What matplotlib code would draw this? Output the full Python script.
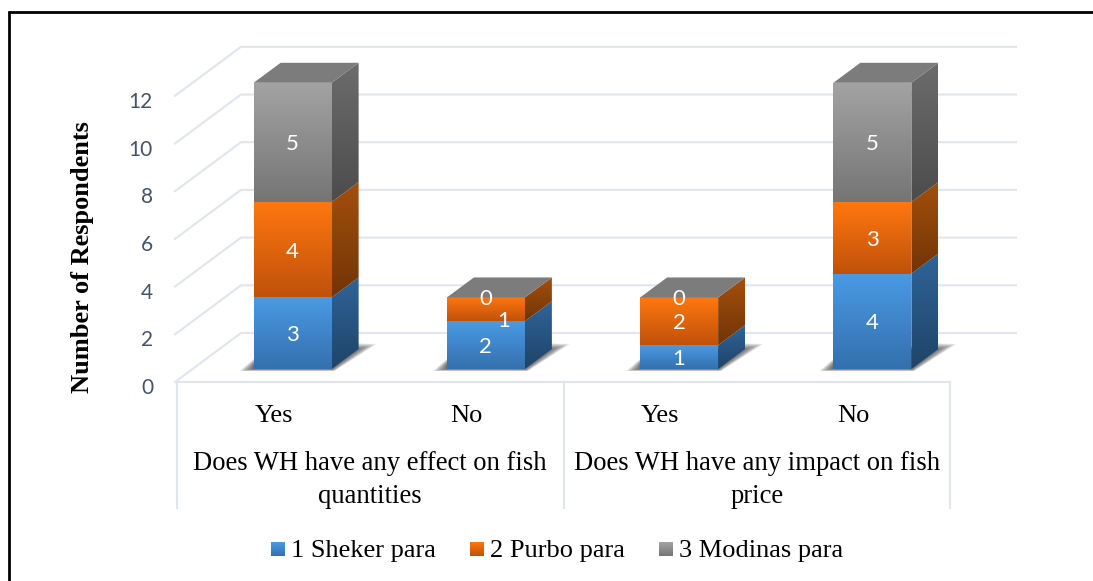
import numpy as np
import matplotlib
matplotlib.use("Agg")
import matplotlib.pyplot as plt
from matplotlib.patches import Polygon
from matplotlib.colors import to_rgb

series_names = ["1 Sheker para", "2 Purbo para", "3 Modinas para"]
answers = ["Yes", "No", "Yes", "No"]
questions = ["Does WH have any effect on fish\nquantities",
             "Does WH have any impact on fish\nprice"]
sheker = [3, 2, 1, 4]
purbo = [4, 1, 2, 3]
modinas = [5, 0, 0, 5]
y_ticks = [0, 2, 4, 6, 8, 10, 12]

W, H = 1093, 581
fig = plt.figure(figsize=(W / 100, H / 100), dpi=100)
ax = fig.add_axes([0, 0, 1, 1])
ax.axis("off")

# pixel layout of the fake 3d box
left, right = 177, 950
floor_y = 382
unit = 23.85
cat_w = (right - left) / 4
wall_dx, wall_dy = 64, -49
grid_col = "#e1e5ec"
serif = "Liberation Serif"


def py(v):
    return floor_y - unit * v


def gradient_poly(pts, top, bottom, zorder=3):
    pts = np.array(pts, dtype=float)
    x0, x1 = pts[:, 0].min(), pts[:, 0].max()
    y0, y1 = pts[:, 1].min(), pts[:, 1].max()
    grad = np.linspace(to_rgb(top), to_rgb(bottom), 64).reshape(64, 1, 3)
    im = ax.imshow(grad, extent=(x0, x1, y1, y0), aspect="auto", zorder=zorder,
                   interpolation="bilinear")
    im.set_clip_path(Polygon(pts, closed=True, transform=ax.transData))


def shadow(x0, x1, y):
    # soft shadow on the floor, stacked shapes going from wide to tight
    outer = np.array([(x0 - 14, y + 2), (x1 + 3, y + 2), (x1 + 45, y - 25),
                      (x1 + 20, y - 26), (x0, y - 10)])
    inner = np.array([(x0, y), (x1, y), (x1 + 24, y - 19), (x1, y - 19), (x0, y - 4)])
    for t in np.linspace(0, 1, 14):
        ax.add_patch(Polygon(outer + (inner - outer) * t, closed=True, fc="#383838",
                             ec="none", alpha=0.085, zorder=2))


# frame, the picture is cropped so only part of it shows
ax.plot([9, 9], [581, 11], color="black", lw=2, zorder=1, solid_capstyle="butt")
ax.plot([8, 1093], [11.5, 11.5], color="black", lw=2, zorder=1, solid_capstyle="butt")

# grid, wall and floor lines
for v in y_ticks:
    y = py(v)
    ax.plot([left - 2, left + wall_dx, 1016], [y, y + wall_dy, y + wall_dy],
            color=grid_col, lw=1.5, zorder=1)
    ax.text(153, y + 6, str(v), ha="right", va="center",
            fontsize=15, family="Lato", color="#44546a", zorder=5)
ax.plot([left, right], [floor_y, floor_y], color=grid_col, lw=1.5, zorder=1)

# category axis below the floor
for i in range(3):
    x = left + i * 2 * cat_w
    ax.plot([x, x], [floor_y, 508], color=grid_col, lw=1.5, zorder=1)

for i, name in enumerate(answers):
    ax.text(left + (i + 0.5) * cat_w, 416, name, ha="center", va="center",
            fontsize=19, family=serif, color="black")
for i, name in enumerate(questions):
    ax.text(left + (i + 0.5) * 2 * cat_w, 480, name, ha="center", va="center",
            fontsize=19.2, family=serif, color="black", linespacing=1.4)

ax.text(82.5, 257, "Number of Respondents", rotation=90, ha="center", va="center",
        fontsize=19, fontweight="bold", family=serif, color="black")

# stacked 3d bars
front_cols = [("#4a9ae5", "#3470ad"), ("#ff7710", "#bf520a"), ("#a3a3a3", "#757575")]
side_cols = [("#2f6499", "#1f4468"), ("#a44f0c", "#713506"), ("#6c6c6c", "#4c4c4c")]
bar_w = 78
dx, dy = 27, -20
base_y = 369
base_v = (floor_y - base_y) / unit

stack = np.array([sheker, purbo, modinas], dtype=float)
for c in range(len(answers)):
    xc = left + (c + 0.5) * cat_w + 19
    x0, x1 = xc - bar_w / 2, xc + bar_w / 2
    shadow(x0, x1, base_y)
    bottom = 0
    for s in range(len(series_names)):
        val = stack[s, c]
        y_low = py(base_v + bottom)
        y_high = py(base_v + bottom + val)
        if val > 0:
            gradient_poly([(x0, y_high), (x1, y_high), (x1, y_low), (x0, y_low)],
                          *front_cols[s])
            gradient_poly([(x1, y_high), (x1 + dx, y_high + dy), (x1 + dx, y_low + dy), (x1, y_low)],
                          *side_cols[s])
        lx, ly = xc, (y_low + y_high) / 2 + 2
        # the label of the thin orange slice sits off to the side in the original
        if val == 1 and s == 1:
            lx, ly = xc + 18, y_low
        ax.text(lx, ly, f"{int(val)}", ha="center", va="center", fontsize=16,
                family="Lato", color="white", zorder=6)
        bottom += val
    y_top = py(base_v + bottom)
    ax.add_patch(Polygon([(x0, y_top), (x1, y_top), (x1 + dx, y_top + dy), (x0 + dx, y_top + dy)],
                         closed=True, fc="#7c7c7c", ec="none", zorder=3))

# legend
legend_x = [271, 470, 659]
for i, name in enumerate(series_names):
    gradient_poly([(legend_x[i], 542), (legend_x[i] + 14, 542),
                   (legend_x[i] + 14, 556), (legend_x[i], 556)], *front_cols[i])
    ax.text(legend_x[i] + 20, 551, name, ha="left", va="center", fontsize=19,
            family=serif, color="black")

ax.set_xlim(0, W)
ax.set_ylim(H, 0)
fig.savefig("out.png", dpi=100)
